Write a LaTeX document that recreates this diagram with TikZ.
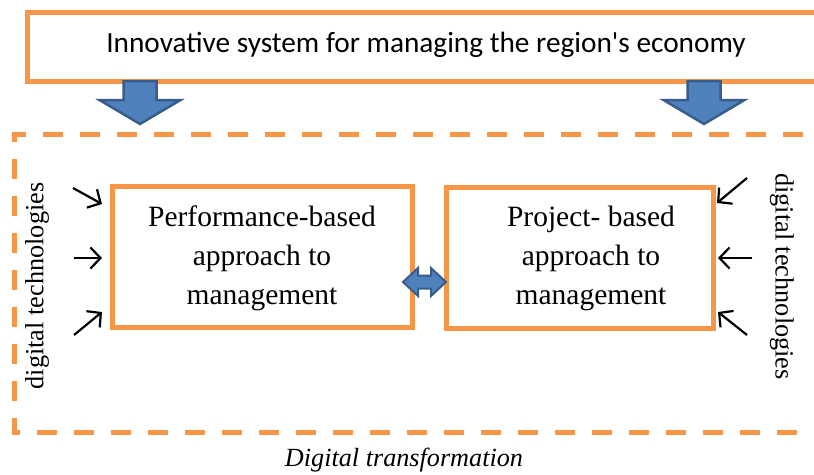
\documentclass[tikz,border=0pt]{standalone}
\usepackage{fontspec}
\setmainfont{Liberation Serif}
\newfontfamily\calfont{Carlito}
\usetikzlibrary{arrows.meta}
\definecolor{orng}{HTML}{F79646}
\definecolor{bfill}{HTML}{4F81BD}
\definecolor{bline}{HTML}{385D8A}
\tikzset{
  obox/.style={draw=orng, line width=5pt, minimum width=#1, inner sep=0pt},
  dashbox/.style={draw=orng, line width=5pt, dash pattern=on 20pt off 17pt},
  blockarrow/.style={fill=bfill, draw=bline, line width=2.5pt, line join=miter},
  thin arrow/.style={-{Straight Barb[length=10pt,width=21pt]}, line width=2.2pt, black},
  boxtext/.style={align=center, font=\fontsize{29.5}{39}\selectfont, inner sep=0pt},
  sidetext/.style={font=\fontsize{26.3}{30}\selectfont, inner sep=0pt}
}
\begin{document}
\begin{tikzpicture}[x=1pt,y=-1pt]
\useasboundingbox (0,0) rectangle (814,474);
\clip (0,0) rectangle (814,474);
% top box
\draw[draw=orng, line width=5pt] (840,12) -- (27,12) -- (27,81) -- (840,81);
\node[font=\calfont\fontsize{29.3}{34}\selectfont, inner sep=0pt] (top) at (426,45) {Innovative system for managing the region's economy};
% dashed box
\draw[dashbox] (840,134) -- (14,134) -- (14,432) -- (840,432);
% block arrows
\foreach \cx/\nm in {140/la, 704/ra}{
  \draw[blockarrow] (\cx-16.5,81) -- (\cx+16.5,81) -- (\cx+16.5,100) -- (\cx+40.5,100)
     -- (\cx,124) -- (\cx-40.5,100) -- (\cx-16.5,100) -- cycle;
}
% inner boxes
\node[obox=300pt, minimum height=141pt] (lbox) at (262,256.5) {};
\node[obox=267pt, minimum height=141pt] (rbox) at (579.5,257.5) {};
\node[boxtext] (ltext) at (262,258) {Performance-based\\approach to\\management};
\node[boxtext] (rtext) at (591,258) {Project- based\\approach to\\management};
% double arrow
\draw[blockarrow, line width=2pt] (403,282) -- (418,268) -- (418,275.5) -- (431,275.5) -- (431,268)
   -- (446,282) -- (431,296) -- (431,288.5) -- (418,288.5) -- (418,296) -- cycle;
% side texts
\node[sidetext, rotate=90] (ldt) at (37,286) {digital technologies};
\node[sidetext, rotate=-90] (rdt) at (782,276.5) {digital technologies};
% small arrows left
\coordinate (l1s) at (73,188); \coordinate (l1e) at (102,204);
\coordinate (l2s) at (74,258); \coordinate (l2e) at (102,258);
\coordinate (l3s) at (74,335); \coordinate (l3e) at (102,312);
\draw[thin arrow] (l1s) -- (l1e);
\draw[thin arrow] (l2s) -- (l2e);
\draw[thin arrow] (l3s) -- (l3e);
% small arrows right
\coordinate (r1s) at (747,178); \coordinate (r1e) at (717,203);
\coordinate (r2s) at (752,258); \coordinate (r2e) at (718,258);
\coordinate (r3s) at (747,335); \coordinate (r3e) at (718,312);
\draw[thin arrow] (r1s) -- (r1e);
\draw[thin arrow] (r2s) -- (r2e);
\draw[thin arrow] (r3s) -- (r3e);
% caption
\node[font=\itshape\fontsize{26.2}{30}\selectfont, inner sep=0pt] (cap) at (404,460) {Digital transformation};
\end{tikzpicture}
\end{document}
